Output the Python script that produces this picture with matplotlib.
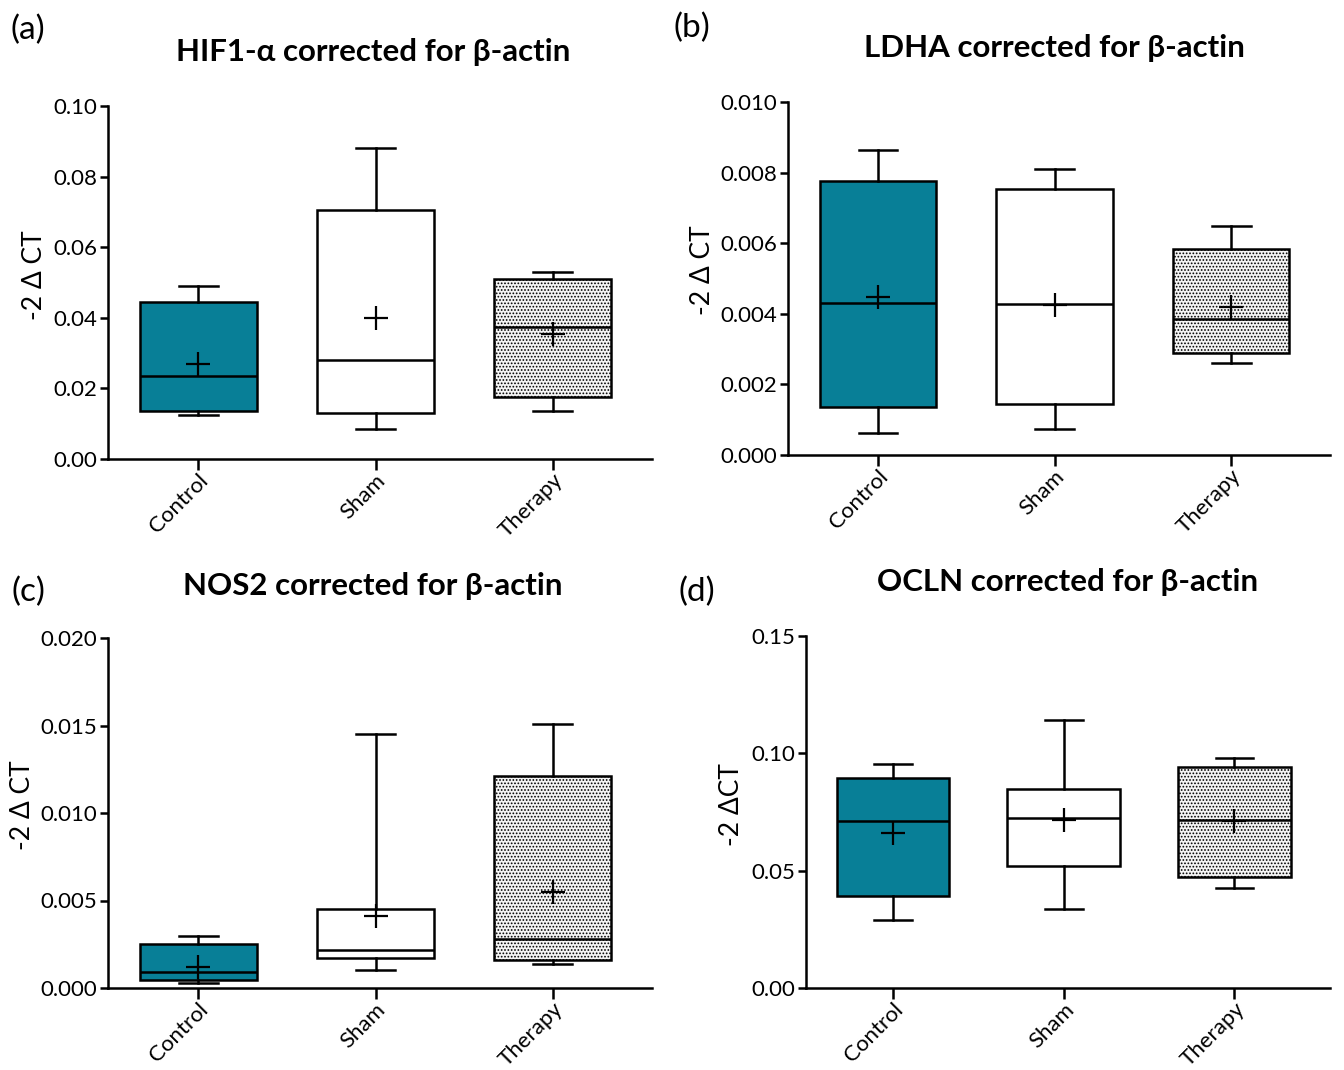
import numpy as np
import matplotlib
matplotlib.use("Agg")
import matplotlib.pyplot as plt

plt.rcParams["font.family"] = ["Lato", "DejaVu Sans"]
plt.rcParams["hatch.linewidth"] = 0.8
plt.rcParams["hatch.color"] = "#bcbcbc"

groups = ["Control", "Sham", "Therapy"]

# per panel: whisker low, Q1, median, Q3, whisker high, mean  (Control, Sham, Therapy)
hif_low = [0.0125, 0.0085, 0.0135]
hif_q1 = [0.0135, 0.0130, 0.0175]
hif_med = [0.0235, 0.0280, 0.0375]
hif_q3 = [0.0445, 0.0705, 0.0510]
hif_high = [0.0490, 0.0880, 0.0530]
hif_mean = [0.0270, 0.0400, 0.0355]

ldha_low = [0.00063, 0.00075, 0.00260]
ldha_q1 = [0.00137, 0.00145, 0.00290]
ldha_med = [0.00432, 0.00428, 0.00385]
ldha_q3 = [0.00775, 0.00753, 0.00583]
ldha_high = [0.00865, 0.00810, 0.00650]
ldha_mean = [0.00447, 0.00425, 0.00420]

nos_low = [0.00030, 0.00105, 0.00140]
nos_q1 = [0.00045, 0.00170, 0.00160]
nos_med = [0.00090, 0.00220, 0.00280]
nos_q3 = [0.00250, 0.00450, 0.01210]
nos_high = [0.00300, 0.01450, 0.01510]
nos_mean = [0.00120, 0.00410, 0.00550]

ocln_low = [0.0290, 0.0335, 0.0425]
ocln_q1 = [0.0390, 0.0520, 0.0475]
ocln_med = [0.0710, 0.0725, 0.0715]
ocln_q3 = [0.0895, 0.0850, 0.0940]
ocln_high = [0.0955, 0.1140, 0.0980]
ocln_mean = [0.0660, 0.0715, 0.0710]

panels = [
    dict(tag="(a)", title="HIF1-α corrected for β-actin", ylab="-2 Δ CT",
         data=(hif_low, hif_q1, hif_med, hif_q3, hif_high, hif_mean),
         ymax=0.10, step=0.02, fmt="%.2f",
         px=(108, 106, 652, 459), tagxy=(28, 30), titlexy=(373, 52), ylabxy=(35, 275)),
    dict(tag="(b)", title="LDHA corrected for β-actin", ylab="-2 Δ CT",
         data=(ldha_low, ldha_q1, ldha_med, ldha_q3, ldha_high, ldha_mean),
         ymax=0.010, step=0.002, fmt="%.3f",
         px=(788, 102, 1330, 455), tagxy=(692, 28), titlexy=(1054, 48), ylabxy=(702, 270)),
    dict(tag="(c)", title="NOS2 corrected for β-actin", ylab="-2 Δ CT",
         data=(nos_low, nos_q1, nos_med, nos_q3, nos_high, nos_mean),
         ymax=0.020, step=0.005, fmt="%.3f",
         px=(108, 638, 652, 988), tagxy=(28, 592), titlexy=(373, 586), ylabxy=(23, 805)),
    dict(tag="(d)", title="OCLN corrected for β-actin", ylab="-2 ΔCT",
         data=(ocln_low, ocln_q1, ocln_med, ocln_q3, ocln_high, ocln_mean),
         ymax=0.15, step=0.05, fmt="%.2f",
         px=(806, 636, 1330, 988), tagxy=(697, 592), titlexy=(1068, 582), ylabxy=(732, 805)),
]

W, H = 1344, 1070
fig = plt.figure(figsize=(W / 100, H / 100), dpi=100)

fills = ["#087f97", "white", "#f4f4f4"]
lw = 1.8

for p in panels:
    l, t, r, b = p["px"]
    ax = fig.add_axes([l / W, (H - b) / H, (r - l) / W, (b - t) / H])
    lo, q1, med, q3, hi, mn = p["data"]
    stats = []
    for i, g in enumerate(groups):
        stats.append(dict(label=g, whislo=lo[i], q1=q1[i], med=med[i], q3=q3[i],
                          whishi=hi[i], mean=mn[i], fliers=[]))
    bp = ax.bxp(stats, positions=[0, 1, 2], widths=0.66, capwidths=0.22,
                showmeans=True, showfliers=False, patch_artist=True,
                boxprops=dict(linewidth=lw, edgecolor="black"),
                medianprops=dict(color="black", linewidth=lw),
                whiskerprops=dict(color="black", linewidth=lw),
                capprops=dict(color="black", linewidth=lw),
                meanprops=dict(marker="+", markersize=17, markeredgecolor="black",
                               markeredgewidth=1.6))
    for i, box in enumerate(bp["boxes"]):
        box.set_facecolor(fills[i])
        if i == 2:
            box.set_hatch(".....")
    ax.set_xlim(-0.51, 2.56)
    ax.set_ylim(0, p["ymax"])
    ax.set_yticks(np.arange(0, p["ymax"] + p["step"] / 2, p["step"]))
    ax.yaxis.set_major_formatter(matplotlib.ticker.FormatStrFormatter(p["fmt"]))
    ax.spines["top"].set_visible(False)
    ax.spines["right"].set_visible(False)
    ax.spines["left"].set_linewidth(lw)
    ax.spines["bottom"].set_linewidth(lw)
    ax.tick_params(axis="y", labelsize=16, width=lw, length=6, pad=2)
    ax.tick_params(axis="x", labelsize=16, width=lw, length=8, pad=0)
    ax.set_xticks([0, 1, 2])
    ax.set_xticklabels(groups, rotation=45, ha="right", rotation_mode="anchor")

    fig.text(p["tagxy"][0] / W, 1 - p["tagxy"][1] / H, p["tag"], fontsize=24,
             ha="center", va="center")
    fig.text(p["titlexy"][0] / W, 1 - p["titlexy"][1] / H, p["title"], fontsize=22.5,
             fontweight="bold", ha="center", va="center")
    fig.text(p["ylabxy"][0] / W, 1 - p["ylabxy"][1] / H, p["ylab"], fontsize=19,
             rotation=90, ha="center", va="center")

fig.savefig("out.png", dpi=100)
